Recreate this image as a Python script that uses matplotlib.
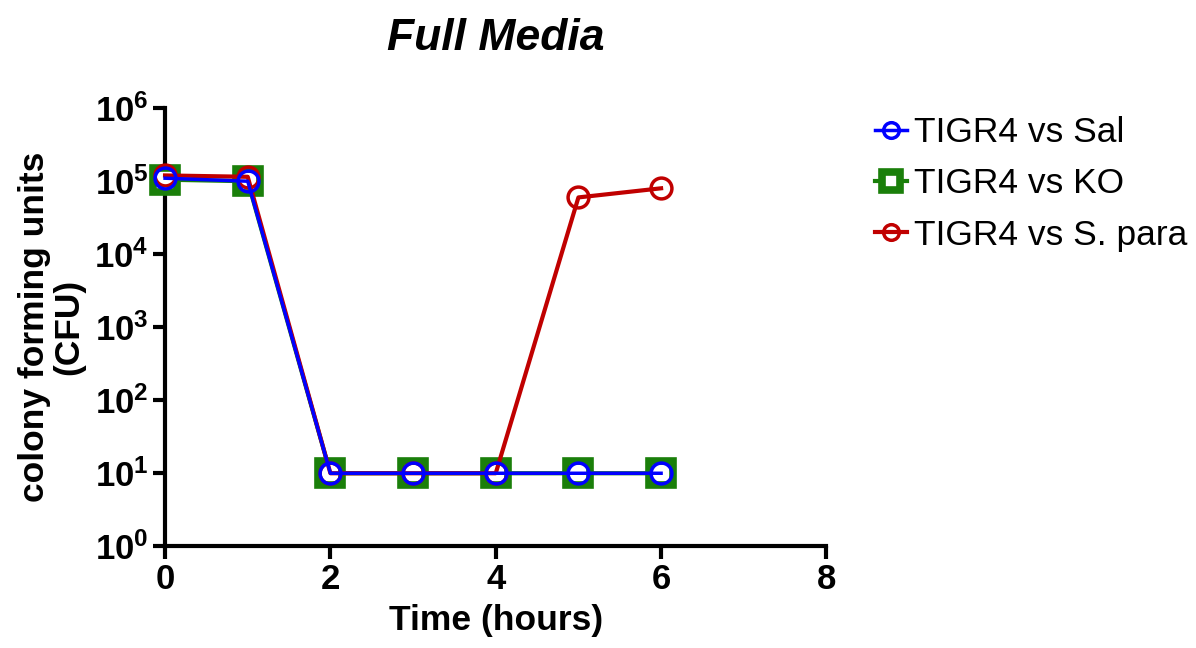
import math
import matplotlib.pyplot as plt
from matplotlib.ticker import FixedLocator, FuncFormatter, NullLocator

plt.rcParams["font.family"] = ["Liberation Sans", "DejaVu Sans"]
plt.rcParams["mathtext.fontset"] = "custom"
plt.rcParams["mathtext.rm"] = "Liberation Sans:bold"
plt.rcParams["mathtext.it"] = "Liberation Sans:bold"
plt.rcParams["mathtext.bf"] = "Liberation Sans:bold"

hours = [0, 1, 2, 3, 4, 5, 6]
sal = [1.1e5, 1.0e5, 10, 10, 10, 10, 10]
ko = [1.05e5, 1.0e5, 10, 10, 10, 10, 10]
spara = [1.2e5, 1.15e5, 10, 10, 10, 6.0e4, 8.0e4]

labels = ["TIGR4 vs Sal", "TIGR4 vs KO", "TIGR4 vs S. para"]
x_ticks = [0, 2, 4, 6, 8]
y_exps = [0, 1, 2, 3, 4, 5, 6]


def main():
    fig = plt.figure(figsize=(11.96, 6.48), dpi=100)
    ax = fig.add_axes([0.138, 0.157, 0.553, 0.676])

    h_ko, = ax.plot(hours, ko, color="#1a7f0a", lw=3, marker="s", ms=17,
                    mfc="white", mec="#1a7f0a", mew=5.5, clip_on=False, zorder=3,
                    label=labels[1])
    h_sp, = ax.plot(hours, spara, color="#c00000", lw=3, marker="o", ms=15,
                    mfc="none", mec="#c00000", mew=2.5, clip_on=False, zorder=4,
                    label=labels[2])
    h_sal, = ax.plot(hours, sal, color="#0000ff", lw=2.5, marker="o", ms=15,
                     mfc="none", mec="#0000ff", mew=2.5, clip_on=False, zorder=5,
                     label=labels[0])

    ax.set_yscale("log")
    ax.set_ylim(1, 1e6)
    ax.set_xlim(0, 8)
    ax.xaxis.set_major_locator(FixedLocator(x_ticks))
    ax.yaxis.set_major_locator(FixedLocator([10.0 ** e for e in y_exps]))
    ax.yaxis.set_minor_locator(NullLocator())
    ax.yaxis.set_major_formatter(FuncFormatter(lambda v, p: "$10^{%d}$" % round(math.log10(v))))

    for s in ["top", "right"]:
        ax.spines[s].set_visible(False)
    for s in ["left", "bottom"]:
        ax.spines[s].set_linewidth(3)
    ax.tick_params(width=3, length=9, labelsize=25, pad=3)
    for t in ax.get_xticklabels():
        t.set_fontweight("bold")

    ax.set_xlabel("Time (hours)", fontsize=25.5, fontweight="bold", labelpad=6)
    ax.set_ylabel("colony forming units\n(CFU)", fontsize=25.5, fontweight="bold",
                  linespacing=1.05, labelpad=6)
    ax.set_title("Full Media", fontsize=32, fontweight="bold", style="italic", pad=42)

    fig.legend(handles=[h_sal, h_ko, h_sp], loc="upper left",
               bbox_to_anchor=(0.72, 0.843), borderaxespad=0, frameon=False,
               fontsize=25.5, handlelength=0.9, handletextpad=0.2,
               labelspacing=0.52, markerscale=0.75)

    fig.savefig("out.png", dpi=100)


if __name__ == "__main__":
    main()
